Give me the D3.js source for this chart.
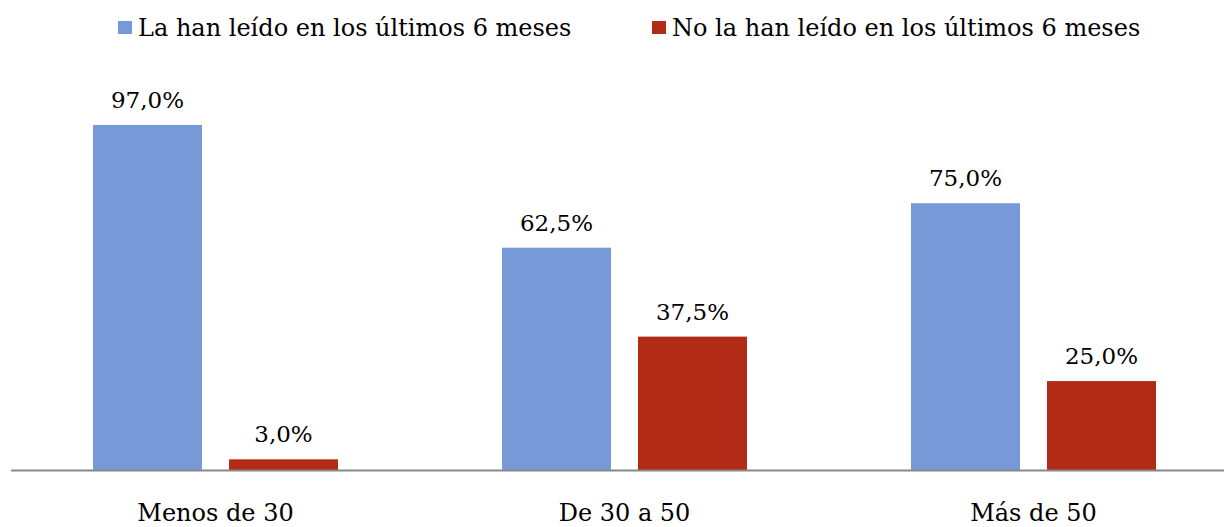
<!DOCTYPE html>
<html><head><meta charset="utf-8">
<script src="https://cdn.jsdelivr.net/npm/d3@7"></script>
<style>body{margin:0;background:#fff}text{font-family:"DejaVu Serif",serif;fill:#000}</style>
</head><body>
<svg id="c" width="1224" height="527"></svg>
<script>
const categories = ["Menos de 30", "De 30 a 50", "Más de 50"];
const seriesNames = ["La han leído en los últimos 6 meses", "No la han leído en los últimos 6 meses"];
const readValues = [97.0, 62.5, 75.0];
const notReadValues = [3.0, 37.5, 25.0];
const colors = ["#7799d8", "#b22b17"];
const fmt = v => v.toFixed(1).replace(".", ",") + "%";

const svg = d3.select("#c");
const fsText = 24, fsVal = 23;
const x0 = d3.scaleBand().domain(categories).range([11, 1238]);
const bw = x0.bandwidth();
const x1 = d3.scaleBand().domain([0,1]).range([(bw-245)/2, (bw+245)/2]).paddingInner(27/136);
const y = d3.scaleLinear().domain([0,100]).range([470, 114.3]);

const series = [readValues, notReadValues];
const data = [];
categories.forEach((c,i)=>series.forEach((s,j)=>data.push({c, j, v:s[i]})));

svg.selectAll("rect.bar").data(data).join("rect").attr("class","bar")
  .attr("x", d=>x0(d.c)+x1(d.j)).attr("width", x1.bandwidth())
  .attr("y", d=>y(d.v)).attr("height", d=>y(0)-y(d.v)).attr("fill", d=>colors[d.j]);

svg.selectAll("text.val").data(data).join("text").attr("class","val")
  .attr("x", d=>x0(d.c)+x1(d.j)+x1.bandwidth()/2).attr("y", d=>y(d.v)-17)
  .attr("text-anchor","middle").style("font-size", fsVal+"px").text(d=>fmt(d.v));

svg.append("line").attr("x1",11).attr("x2",1224).attr("y1",470.5).attr("y2",470.5)
  .attr("stroke","#888").attr("stroke-width",2);

svg.selectAll("text.cat").data(categories).join("text").attr("class","cat")
  .attr("x", d=>x0(d)+bw/2).attr("y", 521).attr("text-anchor","middle")
  .style("font-size", fsText+"px").text(d=>d);

const legX = [118, 652];
seriesNames.forEach((n,j)=>{
  svg.append("rect").attr("x",legX[j]).attr("y",21).attr("width",14).attr("height",13).attr("fill",colors[j]);
  svg.append("text").attr("x",legX[j]+20).attr("y",36).style("font-size",fsText+"px").text(n);
});
</script>
</body></html>
